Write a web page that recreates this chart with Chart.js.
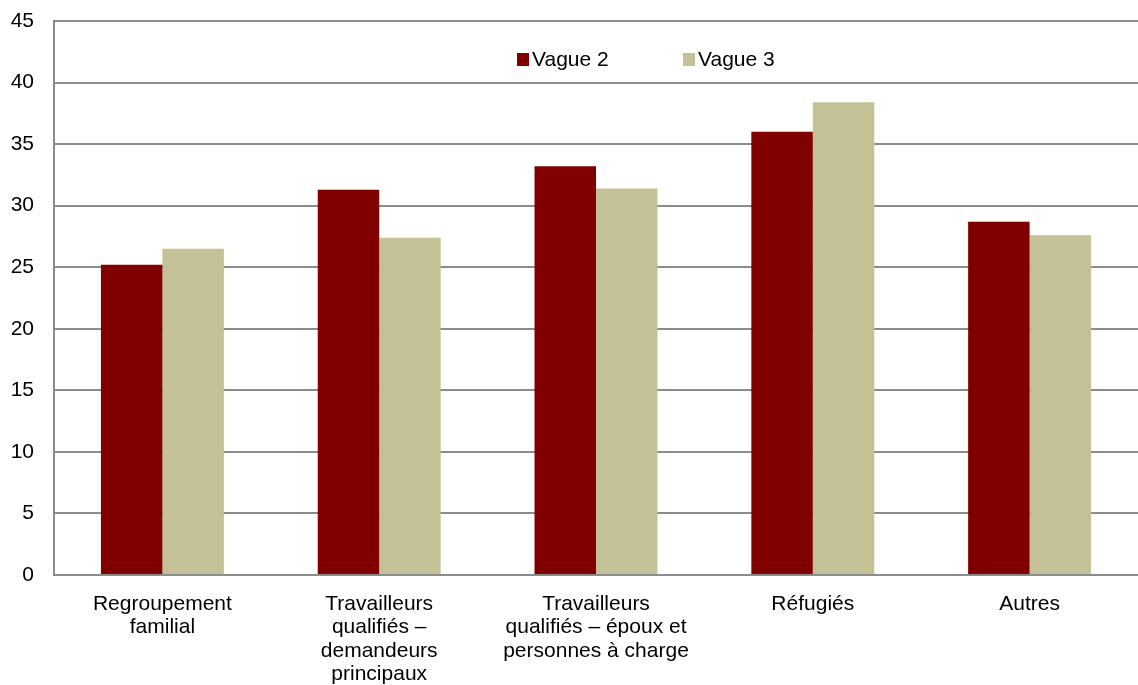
<!DOCTYPE html>
<html>
<head>
<meta charset="utf-8">
<script src="https://cdn.jsdelivr.net/npm/chart.js@4/dist/chart.umd.min.js"></script>
<style>
  html, body { margin: 0; padding: 0; background: #fff; }
  #wrap { width: 1138px; height: 685px; }
</style>
</head>
<body>
<div id="wrap"><canvas id="waveChart" width="1138" height="685"></canvas></div>
<script>
var categories = [
    ['Regroupement', 'familial'],
    ['Travailleurs', 'qualifiés –', 'demandeurs', 'principaux'],
    ['Travailleurs', 'qualifiés – époux et', 'personnes à charge'],
    'Réfugiés',
    'Autres'
];
var vague2 = [25.2, 31.3, 33.2, 36.0, 28.7];
var vague3 = [26.5, 27.4, 31.4, 38.4, 27.6];
var yTicks = [0, 5, 10, 15, 20, 25, 30, 35, 40, 45];

var font = { family: '"Liberation Sans", Arial, sans-serif', size: 21, lineHeight: 1.1 };

// legend sits inside the plot, above the bars
var innerLegend = {
    id: 'innerLegend',
    afterDraw: function(chart) {
        var ctx = chart.ctx;
        var xs = [517, 683];
        var y = 59.5;
        ctx.save();
        ctx.font = font.size + 'px ' + font.family;
        ctx.textBaseline = 'middle';
        chart.data.datasets.forEach(function(ds, i) {
            ctx.fillStyle = ds.backgroundColor;
            ctx.fillRect(xs[i], y - 6.5, 12, 13);
            ctx.fillStyle = '#000';
            ctx.fillText(ds.label, xs[i] + 15, y + 1);
        });
        ctx.restore();
    }
};

var ctx = document.getElementById('waveChart').getContext('2d');
new Chart(ctx, {
    type: 'bar',
    data: {
        labels: categories,
        datasets: [
            { label: 'Vague 2', data: vague2, backgroundColor: '#800000' },
            { label: 'Vague 3', data: vague3, backgroundColor: '#c4c196' }
        ]
    },
    options: {
        responsive: false,
        animation: false,
        layout: { padding: { top: 21, right: 0, left: 0, bottom: 0 } },
        datasets: {
            bar: { barPercentage: 1, categoryPercentage: 0.567 }
        },
        plugins: {
            legend: { display: false },
            tooltip: { enabled: false }
        },
        scales: {
            x: {
                grid: { display: false, drawTicks: false },
                border: { color: '#8c8c8c', width: 2 },
                ticks: { color: '#000', font: font, padding: 18, maxRotation: 0, autoSkip: false },
                afterFit: function(scale) {
                    scale.height = 110;
                    scale.paddingLeft = 0;
                    scale.paddingRight = 0;
                }
            },
            y: {
                min: 0,
                max: 45,
                afterBuildTicks: function(scale) {
                    scale.ticks = yTicks.map(function(v) { return { value: v }; });
                },
                grid: { color: '#8c8c8c', lineWidth: 2, drawTicks: false },
                border: { color: '#8c8c8c', width: 2 },
                ticks: { color: '#000', font: font, padding: 20 },
                afterFit: function(scale) {
                    scale.width = 54;
                    scale.paddingTop = 0;
                    scale.paddingBottom = 0;
                }
            }
        }
    },
    plugins: [innerLegend]
});
</script>
</body>
</html>
